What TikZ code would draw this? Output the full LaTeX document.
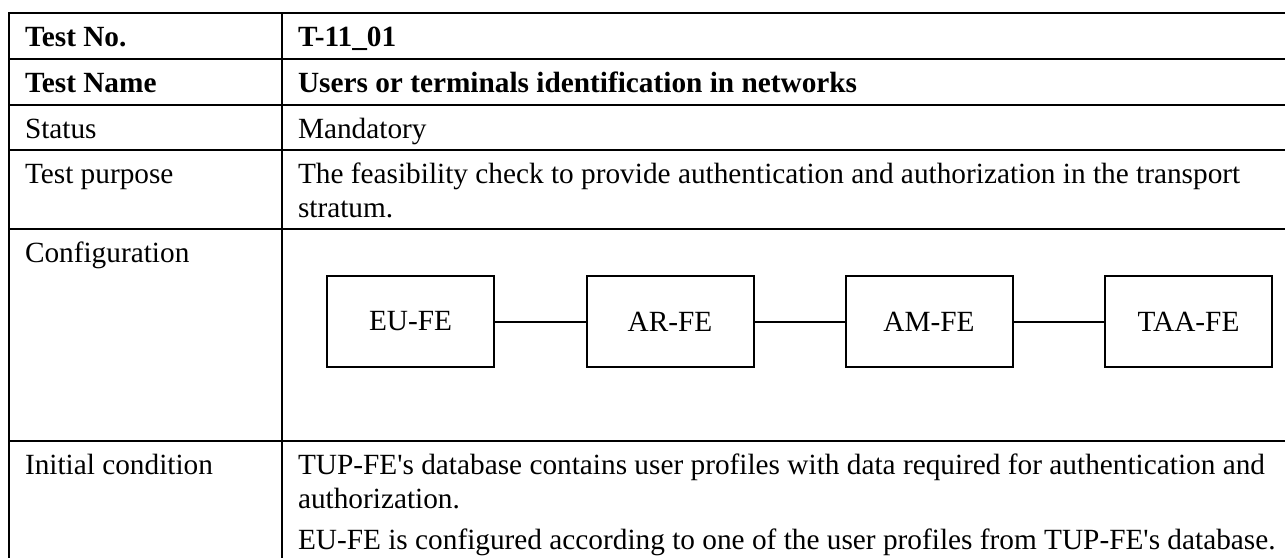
\documentclass[tikz,border=0pt]{standalone}
\usepackage{fontspec}
\setmainfont{Liberation Serif}[Ligatures=TeXOff]
\begin{document}
\begin{tikzpicture}[x=1pt,y=-1pt,line width=2pt,
  cell/.style={anchor=base west,inner sep=0pt,font=\fontsize{29.3}{34}\selectfont},
  hd/.style={cell,font=\fontsize{29.3}{34}\selectfont\bfseries},
  fe/.style={draw,line width=2pt,minimum width=167pt,minimum height=91pt,inner sep=0pt,font=\fontsize{29.3}{34}\selectfont},
  rule/.style={line width=2pt}]
\useasboundingbox (0,0) rectangle (1285,558);
% table rules
\foreach \yy in {13,59,105,150,229,441}{\draw[rule] (8,\yy) -- (1285,\yy);}
\draw[rule] (9,12) -- (9,558);
\draw[rule] (282,12) -- (282,558);
% left column
\node[hd] (l1) at (24,46) {Test No.};
\node[hd] (l2) at (24,92) {Test Name};
\node[cell] (l3) at (24,138) {Status};
\node[cell] (l4) at (24,183) {Test purpose};
\node[cell] (l5) at (24,262) {Configuration};
\node[cell] (l6) at (24,474) {Initial condition};
% right column
\node[hd] (r1) at (297,46) {T-11\_01};
\node[hd] (r2) at (297,92) {Users or terminals identification in networks};
\node[cell] (r3) at (297,138) {Mandatory};
\node[cell] (r4a) at (297,183) {The feasibility check to provide authentication and authorization in the transport};
\node[cell] (r4b) at (297,217) {stratum.};
\node[cell] (r6a) at (297,474) {TUP-FE's database contains user profiles with data required for authentication and};
\node[cell] (r6b) at (297,508) {authorization.};
\node[cell] (r6c) at (297,549) {EU-FE is configured according to one of the user profiles from TUP-FE's database.};
% configuration diagram
\node[fe] (eu) at (410.5,321.5) {EU-FE};
\node[fe] (ar) at (670,321.5) {AR-FE};
\node[fe] (am) at (929,321.5) {AM-FE};
\node[fe] (taa) at (1188.5,321.5) {TAA-FE};
\draw (eu) -- (ar);
\draw (ar) -- (am);
\draw (am) -- (taa);
\end{tikzpicture}
\end{document}
